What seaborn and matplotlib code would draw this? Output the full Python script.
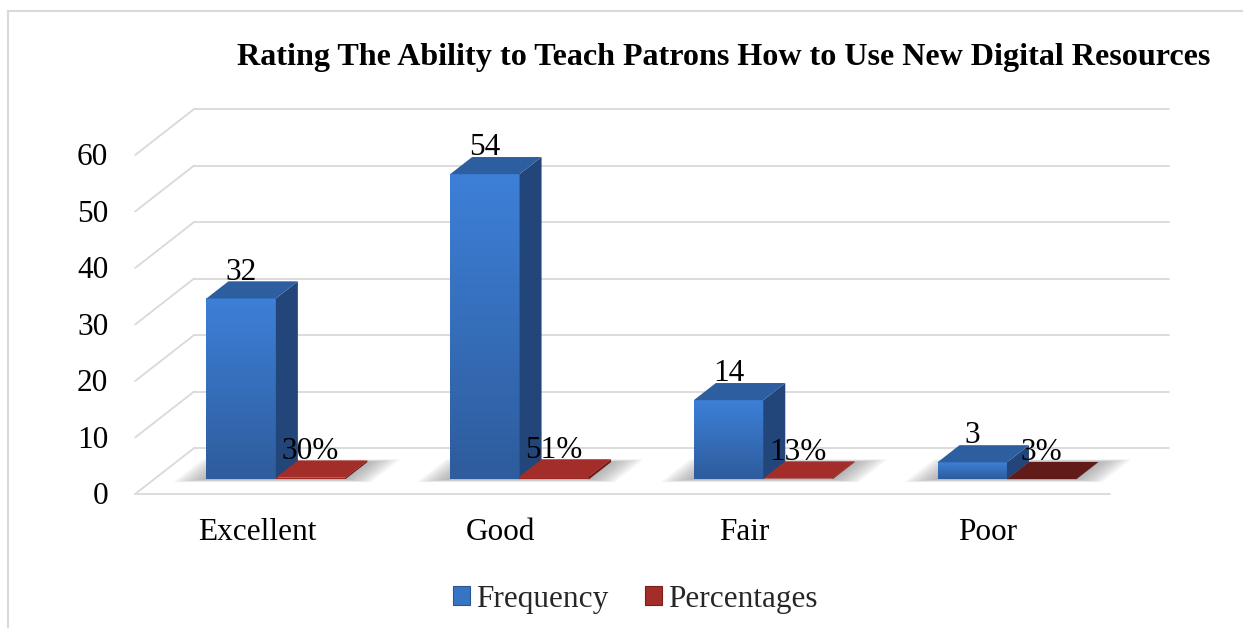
import numpy as np
import pandas as pd
import matplotlib
matplotlib.use("Agg")
import matplotlib.pyplot as plt
import seaborn as sns
from matplotlib.patches import Polygon, Patch, Rectangle
from matplotlib.lines import Line2D
from matplotlib.colors import LinearSegmentedColormap

# ---- data ----
categories = ["Excellent", "Good", "Fair", "Poor"]
frequency = [32, 54, 14, 3]
percentages = [30, 51, 13, 3]
series_names = ["Frequency", "Percentages"]
y_ticks = [0, 10, 20, 30, 40, 50, 60]
title = "Rating The Ability to Teach Patrons How to Use New Digital Resources"

sns.set_theme(style="white")
plt.rcParams["font.family"] = ["Liberation Serif", "DejaVu Serif"]

df = pd.DataFrame({
    "Rating": categories * 2,
    "Series": [series_names[0]] * len(categories) + [series_names[1]] * len(categories),
    "Value": frequency + [p / 100 for p in percentages],
})
value_labels = {0: [str(v) for v in frequency], 1: [f"{p}%" for p in percentages]}

# ---- colours ----
BLUE = "#3674c4"
RED = "#a32d29"
face_cols = {0: ("#3d80d8", "#2e5c9c"), 1: ("#b0342f", "#952824")}
side_cols = {0: "#22467a", 1: "#6e1c19"}
top_cols = {0: "#2d5e9f", 1: "#a32d29"}
poor_red = "#611b18"
GRID = "#d9d9d9"

W, H = 1243, 628
fig = plt.figure(figsize=(W / 100, H / 100), dpi=100)
ax = fig.add_axes([0, 0, 1, 1])

# oblique projection: screen = (cat + d*DX, value + d*DY), d = depth in [0, 1]
X0_PX, PX_PER_CAT = 257.0, 243.7
Y0_PX, PX_PER_UNIT = 494.0, 5.65
DX, DY = 0.242, 8.14
D_FRONT, D_BACK = 0.32, 0.693
ddx, ddy = (D_BACK - D_FRONT) * DX, (D_BACK - D_FRONT) * DY

sns.barplot(data=df, x="Rating", y="Value", hue="Series", order=categories,
            hue_order=series_names, palette=[BLUE, RED], width=0.57,
            saturation=1, errorbar=None, legend=False, ax=ax, zorder=3)

x_left, x_right = -0.5, len(categories) - 0.5

# walls and floor grid
for v in y_ticks:
    ax.plot([x_left + DX, x_right + DX], [v + DY, v + DY], color=GRID, lw=1.3, zorder=1)
    ax.plot([x_left, x_left + DX], [v, v + DY], color=GRID, lw=1.3, zorder=1)
    ax.text(x_left - 0.11, v - 0.45, str(v), ha="right", va="center", fontsize=22.5,
            color="black")
ax.plot([x_left, x_right], [0, 0], color=GRID, lw=1.3, zorder=1)

# soft floor shadows under each bar group
for ci in range(len(categories)):
    gx0, gx1 = ci - 0.285, ci + 0.285
    for k in range(10):
        m = 0.12 * (1 - k / 10)
        md = 0.06 * (1 - k / 10)
        d0, d1 = D_FRONT - md, D_BACK + md
        pts = [(gx0 - m + d0 * DX, d0 * DY), (gx1 + m + d0 * DX, d0 * DY),
               (gx1 + m + d1 * DX, d1 * DY), (gx0 - m + d1 * DX, d1 * DY)]
        ax.add_patch(Polygon(pts, closed=True, facecolor="#7f7f7f", edgecolor="none",
                             alpha=0.07, zorder=2))

bars = [p for p in ax.patches if isinstance(p, Rectangle) and p.get_width() < 1]
for p in bars:
    x0, w, h = p.get_x(), p.get_width(), p.get_height()
    cx = x0 + w / 2
    ci = int(round(cx))
    hue = 0 if cx < ci else 1
    fx0, fy0 = x0 + D_FRONT * DX, D_FRONT * DY
    fx1, fy1 = fx0 + w, fy0 + h
    p.set_x(fx0)
    p.set_y(fy0)
    z = 3 + hue
    p.set_zorder(z)
    p.set_edgecolor("none")
    side_c, top_c = side_cols[hue], top_cols[hue]
    if hue == 1 and ci == len(categories) - 1:
        side_c, top_c = "#4a1412", poor_red
        p.set_facecolor(poor_red)
    else:
        cmap = LinearSegmentedColormap.from_list("f", [face_cols[hue][1], face_cols[hue][0]])
        grad = np.linspace(0, 1, 256).reshape(-1, 1)
        im = ax.imshow(grad, extent=[fx0, fx1, fy0, fy1], origin="lower", aspect="auto",
                       cmap=cmap, zorder=z + 0.01, interpolation="bilinear")
        im.set_clip_path(p)
    side = [(fx1, fy0), (fx1 + ddx, fy0 + ddy), (fx1 + ddx, fy1 + ddy), (fx1, fy1)]
    top = [(fx0, fy1), (fx1, fy1), (fx1 + ddx, fy1 + ddy), (fx0 + ddx, fy1 + ddy)]
    ax.add_patch(Polygon(side, closed=True, facecolor=side_c, edgecolor="none", zorder=z + 0.02))
    ax.add_patch(Polygon(top, closed=True, facecolor=top_c, edgecolor="none", zorder=z + 0.02))
    ax.text(fx0 + w / 2, fy1 + ddy + 0.3, value_labels[hue][ci], ha="center", va="baseline",
            fontsize=22.5, color="black", zorder=10)

# category labels along the front edge of the floor
for ci, name in enumerate(categories):
    ax.text(ci, -6.9, name, ha="center", va="center", fontsize=22.5, color="black")

ax.set_xlim(-X0_PX / PX_PER_CAT, (W - X0_PX) / PX_PER_CAT)
ax.set_ylim((Y0_PX - H) / PX_PER_UNIT, Y0_PX / PX_PER_UNIT)
ax.axis("off")

fig.text(0.5825, 1 - 57 / H, title, ha="center", va="center", fontsize=23.1,
         fontweight="bold", color="black")

handles = [Patch(facecolor=BLUE, edgecolor="#2a5590", lw=0.8),
           Patch(facecolor=RED, edgecolor="#7a1f1c", lw=0.8)]
fig.legend(handles, series_names, loc="center", bbox_to_anchor=(0.511, 1 - 599 / H),
           ncol=2, frameon=False, fontsize=22.5, handlelength=0.55, handleheight=0.55,
           handletextpad=0.2, columnspacing=1.15)

# chart area border
fig.add_artist(Line2D([8 / W, 1], [1 - 11 / H, 1 - 11 / H], transform=fig.transFigure,
                      color=GRID, lw=1.5))
fig.add_artist(Line2D([8 / W, 8 / W], [0, 1 - 11 / H], transform=fig.transFigure,
                      color=GRID, lw=1.5))

fig.savefig("out.png", dpi=100)
